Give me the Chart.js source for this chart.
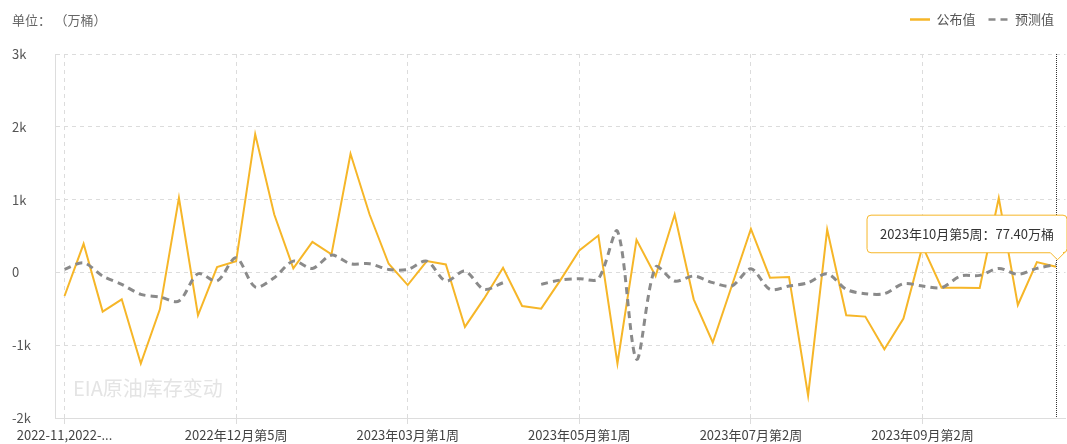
<!DOCTYPE html>
<html>
<head>
<meta charset="utf-8">
<script src="https://cdn.jsdelivr.net/npm/chart.js@4/dist/chart.umd.min.js"></script>
<style>
    html, body { margin: 0; padding: 0; background: #fff; overflow: hidden; }
    #wrap { position: relative; width: 1067px; height: 444px; }
    #unit { position: absolute; left: 12px; top: 10px; font: 13px "Noto Sans CJK SC", sans-serif; color: #666; }
    #unit span { margin-left: 10px; }
</style>
</head>
<body>
<div id="wrap">
    <canvas id="eiaChart"></canvas>
    <div id="unit">单位：<span>（万桶）</span></div>
</div>
<script>
const fontFamily = '"Noto Sans CJK SC", "Noto Sans", sans-serif';

// week labels (first one comes truncated in the source chart)
const weeks = [
    '2022-11,2022-11',
    '2022年11月第2周', '2022年11月第3周', '2022年11月第4周', '2022年11月第5周',
    '2022年12月第1周', '2022年12月第2周', '2022年12月第3周', '2022年12月第4周', '2022年12月第5周',
    '2023年01月第1周', '2023年01月第2周', '2023年01月第3周', '2023年01月第4周',
    '2023年02月第1周', '2023年02月第2周', '2023年02月第3周', '2023年02月第4周',
    '2023年03月第1周', '2023年03月第2周', '2023年03月第3周', '2023年03月第4周', '2023年03月第5周',
    '2023年04月第1周', '2023年04月第2周', '2023年04月第3周', '2023年04月第4周',
    '2023年05月第1周', '2023年05月第2周', '2023年05月第3周', '2023年05月第4周',
    '2023年06月第1周', '2023年06月第2周', '2023年06月第3周', '2023年06月第4周',
    '2023年07月第1周', '2023年07月第2周', '2023年07月第3周', '2023年07月第4周', '2023年07月第5周',
    '2023年08月第1周', '2023年08月第2周', '2023年08月第3周', '2023年08月第4周',
    '2023年09月第1周', '2023年09月第2周', '2023年09月第3周', '2023年09月第4周',
    '2023年10月第1周', '2023年10月第2周', '2023年10月第3周', '2023年10月第4周', '2023年10月第5周'
];

// 公布值 (万桶)
const published = [
    -324, 393, -539, -370, -1251, -507, 1023, -589, 73, 155,
    1899, 795, 55, 420, 247, 1630, 795, 119, -174, 155,
    110, -749, -361, 64, -461, -498, -110, 301, 507, -1251,
    447, -50, 795, -370, -963, -183, 598, -73, -64, -1694,
    589, -589, -607, -1055, -634, 360, -210, -210, -215, 1023,
    -448, 141, 77.4
];

// 预测值 (万桶)
const forecast = [
    41, 132, -50, -164, -301, -338, -393, -18, -119, 201,
    -201, -73, 155, 55, 237, 119, 119, 41, 41, 155,
    -119, 18, -233, -141, null, -164, -105, -87, -87, 566,
    -1192, 73, -119, -50, -141, -187, 50, -233, -187, -141,
    -18, -233, -292, -292, -155, -187, -210, -50, -41, 55,
    -27, 55, 110
];

const yTicks = [-2000, -1000, 0, 1000, 2000, 3000];
const labelEvery = 9;
const activeIndex = weeks.length - 1;

const gridColor = '#dcdcdc';

// extra room under the legend
const legendSpacer = {
    id: 'legendSpacer',
    beforeLayout(chart) {
        const lg = chart.legend;
        if (lg && !lg._spaced) {
            const fit = lg.fit;
            lg.fit = function () {
                fit.call(this);
                this.height += 18;
            };
            lg._spaced = true;
        }
    }
};

const watermark = {
    id: 'watermark',
    beforeDatasetsDraw(chart) {
        const {ctx, chartArea} = chart;
        ctx.save();
        ctx.font = '20px ' + fontFamily;
        ctx.fillStyle = '#e4e4e4';
        ctx.textBaseline = 'middle';
        ctx.fillText('EIA原油库存变动', chartArea.left + 18, chartArea.bottom - 30);
        ctx.restore();
    }
};

const crosshair = {
    id: 'crosshair',
    afterDatasetsDraw(chart) {
        const {ctx, chartArea} = chart;
        const x = Math.round(chart.scales.x.getPixelForValue(activeIndex)) + 0.5;
        ctx.save();
        ctx.setLineDash([1, 1]);
        ctx.strokeStyle = '#333';
        ctx.lineWidth = 1;
        ctx.beginPath();
        ctx.moveTo(x, chartArea.top);
        ctx.lineTo(x, chartArea.bottom);
        ctx.stroke();
        ctx.restore();
    }
};

const chart = new Chart(document.getElementById('eiaChart'), {
    type: 'line',
    data: {
        labels: weeks,
        datasets: [
            {
                label: '公布值',
                data: published,
                borderColor: '#f6b628',
                backgroundColor: '#f6b628',
                borderWidth: 2,
                tension: 0,
                pointRadius: 0,
                pointHoverRadius: 0,
                order: 1
            },
            {
                label: '预测值',
                data: forecast,
                borderColor: '#8a8a8a',
                backgroundColor: '#8a8a8a',
                borderWidth: 3,
                borderDash: [7, 5],
                tension: 0.3,
                spanGaps: false,
                pointRadius: 0,
                pointHoverRadius: 0,
                order: 0
            }
        ]
    },
    options: {
        responsive: true,
        maintainAspectRatio: false,
        animation: false,
        events: [],
        layout: {
            padding: { left: 12, right: 0, top: 0, bottom: 0 }
        },
        scales: {
            x: {
                offset: true,
                grid: {
                    offset: false,
                    drawOnChartArea: true,
                    tickLength: 6,
                    color: (c) => c.index % labelEvery === 0 ? gridColor : 'rgba(0,0,0,0)',
                    tickColor: (c) => c.index % labelEvery === 0 ? gridColor : 'rgba(0,0,0,0)'
                },
                border: { display: true, color: '#dddddd', dash: [4, 4] },
                ticks: {
                    autoSkip: false,
                    maxRotation: 0,
                    padding: 3,
                    color: '#444',
                    font: { size: 13, family: fontFamily },
                    callback: function (value, index) {
                        if (index % labelEvery !== 0) return '';
                        const label = this.getLabelForValue(value);
                        return label.length > 12 ? label.slice(0, 13) + '...' : label;
                    }
                },
                afterFit: (scale) => { scale.height = 26; }
            },
            y: {
                min: -2000,
                max: 3000,
                afterBuildTicks: (scale) => { scale.ticks = yTicks.map((v) => ({ value: v })); },
                grid: { color: gridColor, drawTicks: false },
                border: { display: true, color: '#dddddd', dash: [4, 4] },
                ticks: {
                    crossAlign: 'far',
                    color: '#555',
                    font: { size: 13, family: fontFamily },
                    callback: (value) => value === 0 ? '0' : (value / 1000) + 'k'
                },
                afterFit: (scale) => { scale.width = 43; }
            }
        },
        plugins: {
            legend: {
                position: 'top',
                align: 'end',
                labels: {
                    usePointStyle: true,
                    pointStyle: 'line',
                    pointStyleWidth: 20,
                    padding: 13,
                    color: '#555',
                    font: { size: 13, family: fontFamily },
                    generateLabels: (c) => c.data.datasets.map((ds, i) => ({
                        text: ds.label,
                        datasetIndex: i,
                        fillStyle: ds.borderColor,
                        strokeStyle: ds.borderColor,
                        lineWidth: 2.5,
                        lineDash: ds.borderDash || [],
                        pointStyle: 'line',
                        fontColor: '#555',
                        hidden: false
                    }))
                }
            },
            tooltip: {
                enabled: true,
                backgroundColor: '#fff',
                borderColor: '#f6b628',
                borderWidth: 1,
                bodyColor: '#333',
                bodyFont: { size: 13, family: fontFamily },
                padding: { top: 11, bottom: 11, left: 13, right: 13 },
                cornerRadius: 4,
                caretSize: 7,
                caretPadding: 7,
                displayColors: false,
                xAlign: 'center',
                yAlign: 'bottom',
                filter: (item) => item.datasetIndex === 0,
                callbacks: {
                    title: () => '',
                    label: (ctx) => ctx.label + '：' + ctx.parsed.y.toFixed(2) + '万桶'
                }
            }
        }
    },
    plugins: [legendSpacer, watermark, crosshair]
});

chart.tooltip.setActiveElements([{ datasetIndex: 0, index: activeIndex }], { x: 0, y: 0 });
chart.update();
</script>
</body>
</html>
